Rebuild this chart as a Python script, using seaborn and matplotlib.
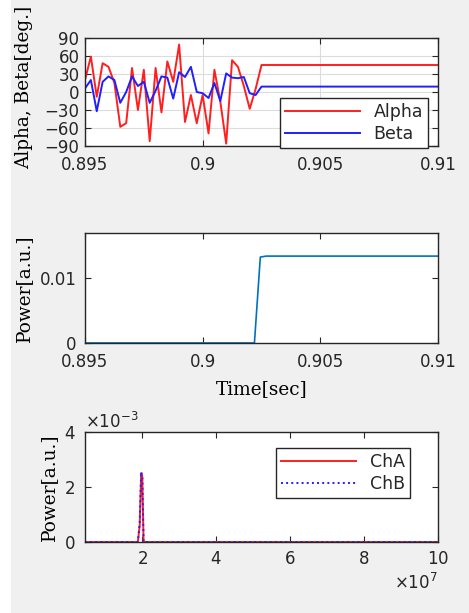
import numpy as np
import pandas as pd
import matplotlib
matplotlib.use('Agg')
import matplotlib.pyplot as plt
from matplotlib.patches import Rectangle
import seaborn as sns

# angle traces, 0.25 ms sampling until the lock at 0.9025 s
time_ab = [0.895, 0.89525, 0.8955, 0.89575, 0.896, 0.89625, 0.8965, 0.89675,
           0.897, 0.89725, 0.8975, 0.89775, 0.898, 0.89825, 0.8985, 0.89875,
           0.899, 0.89925, 0.8995, 0.89975, 0.9, 0.90025, 0.9005, 0.90075,
           0.901, 0.90125, 0.9015, 0.90175, 0.902, 0.90225, 0.9025, 0.91]
alpha = [20, 59, -8, 48, 42, 15, -58, -52, 40, -30, 37, -82, 40, -34, 51, 17,
         79, -50, -5, -52, -5, -69, 37, -16, -86, 53, 42, 10, -28, 5, 45, 45]
beta = [6, 20, -32, 17, 26, 20, -18, 0, 26, 10, 17, -18, 2, 26, 24, -11,
        33, 25, 42, 0, -2, -10, 15, -15, 31, 24, 23, 25, -2, -5, 9, 9]

# power vs time
time_pw = [0.895, 0.9022, 0.90245, 0.9027, 0.91]
power = [0.0, 0.0, 0.0132, 0.01335, 0.01335]

# spectrum
freq = [0.45e7, 1.88e7, 1.93e7, 1.97e7, 2.0e7, 2.035e7, 1.0e8]
cha = [0.0, 0.0, 0.0006, 0.0025, 0.0024, 0.0, 0.0]
chb = [0.0, 0.0, 0.0007, 0.00255, 0.0024, 0.0, 0.0]

df_ab = pd.DataFrame({'t': time_ab, 'Alpha': alpha, 'Beta': beta})
df_pw = pd.DataFrame({'t': time_pw, 'p': power})
df_sp = pd.DataFrame({'f': freq, 'ChA': cha, 'ChB': chb})

plt.rcParams['font.family'] = 'DejaVu Sans'
plt.rcParams['font.size'] = 12
plt.rcParams['xtick.direction'] = 'in'
plt.rcParams['ytick.direction'] = 'in'
plt.rcParams['xtick.top'] = True
plt.rcParams['ytick.right'] = True
plt.rcParams['axes.edgecolor'] = '#262626'
plt.rcParams['xtick.color'] = '#262626'
plt.rcParams['ytick.color'] = '#262626'
plt.rcParams['text.color'] = '#262626'

fig = plt.figure(figsize=(4.69, 6.13), dpi=100, facecolor='#f0f0f0')
fig.patches.append(Rectangle((0, 0), 11 / 469, 1, transform=fig.transFigure,
                             facecolor='white', edgecolor='none', zorder=0))

lab_font = dict(family='DejaVu Serif', size=13.3)

ax1 = fig.add_axes([0.1812, 0.7618, 0.7527, 0.1762])
ax2 = fig.add_axes([0.1812, 0.4405, 0.7527, 0.1794])
ax3 = fig.add_axes([0.1812, 0.1158, 0.7527, 0.1794])

for ax in (ax1, ax2, ax3):
    ax.set_facecolor('white')
    for s in ax.spines.values():
        s.set_linewidth(1.0)
    ax.tick_params(length=4, width=0.8, pad=3, labelsize=12)

# --- top: alpha / beta ---
sns.lineplot(data=df_ab, x='t', y='Alpha', ax=ax1, color='#ff1f1f', lw=1.4, label='Alpha')
sns.lineplot(data=df_ab, x='t', y='Beta', ax=ax1, color='#1f1fff', lw=1.4, label='Beta')
ax1.set_xlim(0.895, 0.91)
ax1.set_ylim(-90, 90)
ax1.set_yticks([-90, -60, -30, 0, 30, 60, 90])
ax1.set_xticks([0.895, 0.9, 0.905, 0.91])
ax1.set_xticklabels(['0.895', '0.9', '0.905', '0.91'])
ax1.grid(True, color='#dcdcdc', lw=0.8)
ax1.set_axisbelow(True)
ax1.tick_params(axis='y', pad=4)
ax1.tick_params(axis='x', pad=7)
ax1.set_xlabel('')
ax1.set_ylabel('Alpha, Beta[deg.]', fontdict=lab_font)
ax1.yaxis.set_label_coords(-0.147, 0.54)
leg1 = ax1.legend(loc='lower right', bbox_to_anchor=(0.972, -0.02), borderaxespad=0,
                  fancybox=False, framealpha=1, edgecolor='#262626', handlelength=4.3,
                  fontsize=12.5, borderpad=0.3, labelspacing=0.2)
leg1.get_frame().set_linewidth(1.0)
leg1.set_zorder(5)

# --- middle: power vs time ---
sns.lineplot(data=df_pw, x='t', y='p', ax=ax2, color='#0072BD', lw=1.2)
ax2.set_xlim(0.895, 0.91)
ax2.set_ylim(0, 0.0169)
ax2.set_yticks([0, 0.01])
ax2.set_yticklabels(['0', '0.01'])
ax2.set_xticks([0.895, 0.9, 0.905, 0.91])
ax2.set_xticklabels(['0.895', '0.9', '0.905', '0.91'])
ax2.tick_params(axis='y', pad=6)
ax2.tick_params(axis='x', pad=7)
ax2.set_xlabel('Time[sec]', fontdict=lab_font, labelpad=7)
ax2.set_ylabel('Power[a.u.]', fontdict=lab_font)
ax2.yaxis.set_label_coords(-0.147, 0.5)

# --- bottom: spectrum ---
sns.lineplot(data=df_sp, x='f', y='ChA', ax=ax3, color='#ff1f1f', lw=1.4, label='ChA')
sns.lineplot(data=df_sp, x='f', y='ChB', ax=ax3, color='#1f1fff', lw=1.4,
             linestyle=':', label='ChB')
ax3.set_xlim(0.45e7, 1.0e8)
ax3.set_ylim(0, 0.004)
ax3.set_yticks([0, 0.002, 0.004])
ax3.set_xticks([2e7, 4e7, 6e7, 8e7, 10e7])
ax3.ticklabel_format(style='sci', axis='x', scilimits=(7, 7), useMathText=True)
ax3.ticklabel_format(style='sci', axis='y', scilimits=(-3, -3), useMathText=True)
ax3.xaxis.get_offset_text().set_fontsize(12)
ax3.yaxis.get_offset_text().set_fontsize(12)
ax3.tick_params(axis='y', pad=7)
ax3.tick_params(axis='x', pad=6)
ax3.set_xlabel('')
ax3.set_ylabel('Power[a.u.]', fontdict=lab_font)
ax3.yaxis.set_label_coords(-0.0765, 0.5)
leg3 = ax3.legend(loc='upper right', bbox_to_anchor=(0.921, 0.855), borderaxespad=0,
                  fancybox=False, framealpha=1, edgecolor='#262626', handlelength=4.3,
                  fontsize=12.5, borderpad=0.3, labelspacing=0.2)
leg3.get_frame().set_linewidth(1.0)

fig.savefig('out.png', dpi=100, facecolor=fig.get_facecolor())
